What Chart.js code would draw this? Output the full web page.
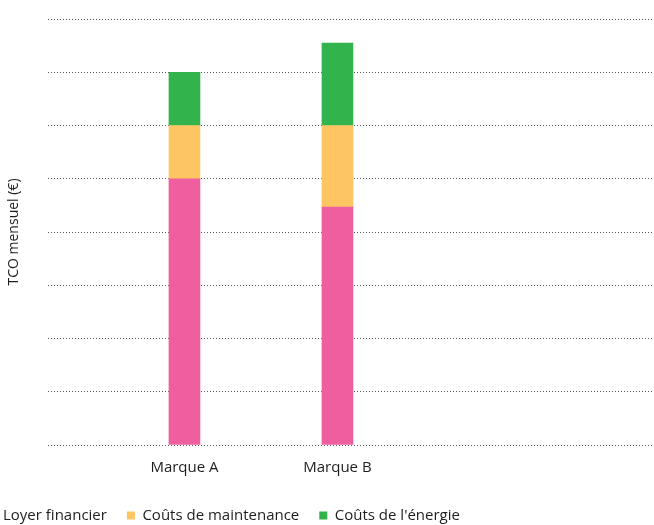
<!DOCTYPE html>
<html>
<head>
<meta charset="utf-8">
<script src="https://cdn.jsdelivr.net/npm/chart.js@4/dist/chart.umd.min.js"></script>
<style>
  html, body { margin: 0; padding: 0; background: #ffffff; }
  #wrap { width: 654px; height: 525px; position: relative; }
</style>
</head>
<body>
<div id="wrap"><canvas id="tco"></canvas></div>
<script>
// Data (one grid step = 100)
const categories = ['Marque A', 'Marque B'];
const loyerFinancier = [500, 447];
const coutsMaintenance = [100, 153];
const coutsEnergie = [100, 155];
const yTicks = [0, 100, 200, 300, 400, 500, 600, 700, 800];

const fontName = '"Open Sans", "Liberation Sans", sans-serif';
const textColor = '#1e1e1e';

// bars sit at x = 1, 2 on a linear axis so they keep the original spacing
function toPoints(values) {
    return values.map((v, i) => ({ x: i + 1, y: v }));
}

// the legend in the reference is cut at the left edge, move it there
const legendPlacement = {
    id: 'legendPlacement',
    afterLayout(chart) {
        const lg = chart.legend;
        const w = lg.right - lg.left;
        lg.left = -32.5;
        lg.right = lg.left + w;
        lg.top = 488;
        lg.bottom = lg.top + 40;
    }
};

const ctx = document.getElementById('tco').getContext('2d');
new Chart(ctx, {
    type: 'bar',
    data: {
        datasets: [
            { label: 'Loyer financier', data: toPoints(loyerFinancier), backgroundColor: '#ef5f9f' },
            { label: 'Coûts de maintenance', data: toPoints(coutsMaintenance), backgroundColor: '#fec663' },
            { label: "Coûts de l'énergie", data: toPoints(coutsEnergie), backgroundColor: '#32b34b' }
        ]
    },
    options: {
        responsive: true,
        maintainAspectRatio: false,
        animation: false,
        datasets: { bar: { barThickness: 31, borderWidth: 0 } },
        layout: { padding: { top: 19, right: 0, bottom: 0, left: 0 } },
        scales: {
            x: {
                type: 'linear',
                stacked: true,
                offset: false,
                min: 0.108,
                max: 4.069,
                grid: { display: false },
                border: { display: false },
                afterBuildTicks: (scale) => { scale.ticks = categories.map((c, i) => ({ value: i + 1 })); },
                afterFit: (scale) => { scale.height = 35; },
                ticks: {
                    padding: 6,
                    color: textColor,
                    font: { family: fontName, size: 15 },
                    callback: (v) => categories[v - 1] || ''
                }
            },
            y: {
                stacked: true,
                min: yTicks[0],
                max: yTicks[yTicks.length - 1],
                afterBuildTicks: (scale) => { scale.ticks = yTicks.map(v => ({ value: v })); },
                afterFit: (scale) => { scale.width = 48; },
                ticks: { display: false },
                border: { display: false, dash: [1, 2] },
                grid: {
                    color: '#555555',
                    lineWidth: 1,
                    drawTicks: false
                },
                title: {
                    display: true,
                    text: 'TCO mensuel (€)',
                    color: textColor,
                    padding: { top: 6, bottom: 0 },
                    font: { family: fontName, size: 14 }
                }
            }
        },
        plugins: {
            legend: {
                display: true,
                position: 'bottom',
                align: 'start',
                maxHeight: 45,
                labels: {
                    boxWidth: 8,
                    boxHeight: 8,
                    padding: 20,
                    color: textColor,
                    font: { family: fontName, size: 15 }
                }
            },
            tooltip: { enabled: false }
        }
    },
    plugins: [legendPlacement]
});
</script>
</body>
</html>
